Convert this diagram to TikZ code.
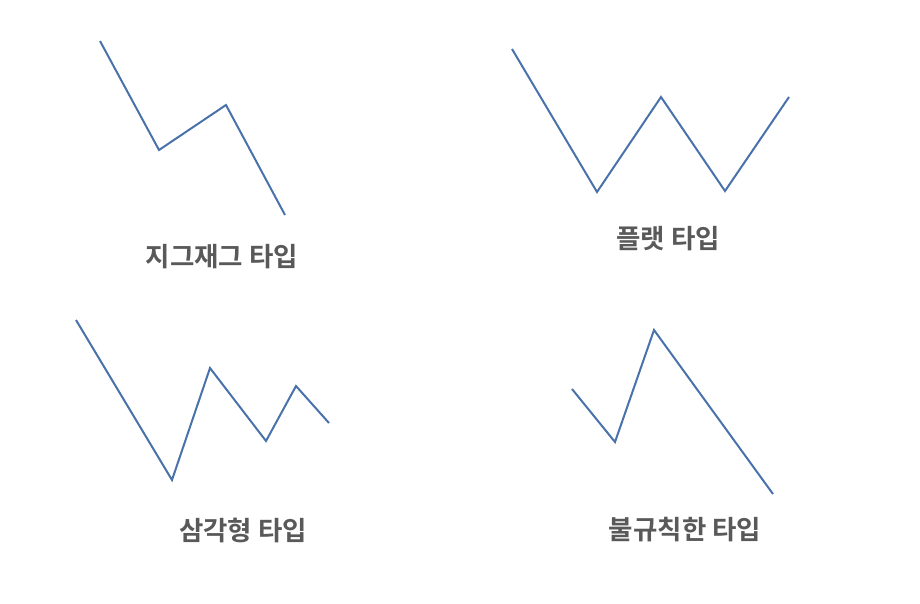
\documentclass[tikz,border=0pt]{standalone}
\usepackage{fontspec}
\newfontfamily\kr{Noto Sans CJK KR}[BoldFont={Noto Sans CJK KR Bold}]
\definecolor{lineblue}{HTML}{4A72AA}
\definecolor{labelgray}{HTML}{595959}
\tikzset{
  trend/.style={draw=lineblue, line width=2pt, line join=miter},
  lbl/.style={font=\kr\bfseries\fontsize{26.5}{30}\selectfont, text=labelgray, inner sep=0pt}
}
\begin{document}
\begin{tikzpicture}[x=1pt,y=-1pt]
\useasboundingbox (0,0) rectangle (920,603);
% zigzag
\coordinate (z1) at (100,41);
\coordinate (z2) at (159,150);
\coordinate (z3) at (226,105);
\coordinate (z4) at (285,215);
\draw[trend] (z1) -- (z2) -- (z3) -- (z4);
\node[lbl] (lz) at (222,257) {지그재그 타입};
% flat
\coordinate (f1) at (512,49);
\coordinate (f2) at (597,192);
\coordinate (f3) at (661,97);
\coordinate (f4) at (725,191);
\coordinate (f5) at (789,97);
\draw[trend] (f1) -- (f2) -- (f3) -- (f4) -- (f5);
\node[lbl] (lf) at (668,239) {플랫 타입};
% triangle
\coordinate (t1) at (76,320);
\coordinate (t2) at (172,480);
\coordinate (t3) at (210,368);
\coordinate (t4) at (266,441);
\coordinate (t5) at (296,386);
\coordinate (t6) at (329,423);
\draw[trend] (t1) -- (t2) -- (t3) -- (t4) -- (t5) -- (t6);
\node[lbl] (lt) at (243,530) {삼각형 타입};
% irregular
\coordinate (i1) at (572,389);
\coordinate (i2) at (615,442);
\coordinate (i3) at (654,330);
\coordinate (i4) at (773,494);
\draw[trend] (i1) -- (i2) -- (i3) -- (i4);
\node[lbl] (li) at (685,530) {불규칙한 타입};
\end{tikzpicture}
\end{document}
